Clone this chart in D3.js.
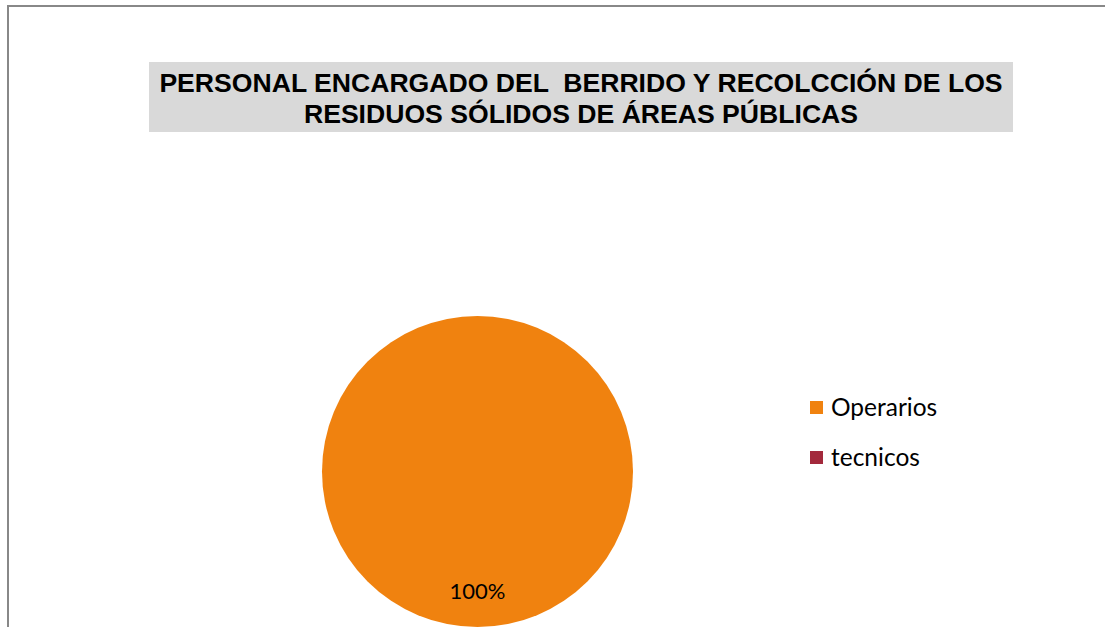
<!DOCTYPE html>
<html>
<head>
<meta charset="utf-8">
<script src="https://cdn.jsdelivr.net/npm/d3@7"></script>
<style>
  html, body { margin: 0; padding: 0; background: #fff; overflow: hidden; }
</style>
</head>
<body>
<svg id="chart" width="1105" height="627"></svg>
<script>
var titleLines = ["PERSONAL ENCARGADO DEL  BERRIDO Y RECOLCCIÓN DE LOS", "RESIDUOS SÓLIDOS DE ÁREAS PÚBLICAS"];
var categories = ["Operarios", "tecnicos"];
var values = [100, 0];
var colors = ["#F0820F", "#A3293C"];

var width = 1105, height = 627;
var svg = d3.select("#chart");

// chart area border (only top and left edges visible in the frame)
svg.append("rect")
    .attr("x", 8).attr("y", 6)
    .attr("width", width + 20).attr("height", height + 20)
    .attr("fill", "#fff")
    .attr("stroke", "#888").attr("stroke-width", 2);

// title box
svg.append("rect")
    .attr("x", 149).attr("y", 62)
    .attr("width", 864).attr("height", 70)
    .attr("fill", "#d9d9d9");

svg.append("g").selectAll("text")
    .data(titleLines)
    .enter().append("text")
    .attr("x", 581)
    .attr("y", function (d, i) { return 92 + i * 31; })
    .attr("text-anchor", "middle")
    .style("font-family", "'Liberation Sans', Arial, sans-serif")
    .style("font-weight", "bold")
    .style("font-size", "26.6px")
    .style("white-space", "pre")
    .attr("xml:space", "preserve")
    .text(function (d) { return d; });

// pie
var cx = 477.5, cy = 471.5, r = 155.5;
var data = categories.map(function (c, i) { return { name: c, value: values[i] }; });
var total = d3.sum(values);
var color = d3.scaleOrdinal().domain(categories).range(colors);
var pie = d3.pie().sort(null).value(function (d) { return d.value; });
var arc = d3.arc().innerRadius(0).outerRadius(r);
var labelArc = d3.arc().innerRadius(r * 0.8).outerRadius(r * 0.8);
var fmt = d3.format(".0%");

var g = svg.append("g").attr("transform", "translate(" + cx + "," + cy + ")");
var slices = pie(data);
g.selectAll("path")
    .data(slices)
    .enter().append("path")
    .attr("d", arc)
    .attr("fill", function (d) { return color(d.data.name); });

g.selectAll("text")
    .data(slices.filter(function (d) { return d.value > 0; }))
    .enter().append("text")
    .attr("transform", function (d) {
        var c = labelArc.centroid(d);
        // a full slice centroid lands at the bottom of the pie
        if (d.endAngle - d.startAngle >= 2 * Math.PI - 1e-6) c = [0, r * 0.77];
        return "translate(" + c[0] + "," + c[1] + ")";
    })
    .attr("dy", "0.35em")
    .attr("text-anchor", "middle")
    .style("font-family", "Lato, 'Open Sans', sans-serif")
    .style("font-size", "22px")
    .attr("fill", "#000")
    .text(function (d) { return fmt(d.value / total); });

// legend
var legend = svg.append("g").attr("transform", "translate(810,401)");
var item = legend.selectAll("g")
    .data(categories)
    .enter().append("g")
    .attr("transform", function (d, i) { return "translate(0," + i * 50 + ")"; });
item.append("rect")
    .attr("width", 13).attr("height", 13)
    .attr("fill", function (d) { return color(d); });
item.append("text")
    .attr("x", 21).attr("y", 14.5)
    .style("font-family", "Lato, 'Open Sans', sans-serif")
    .style("font-size", "24.5px")
    .attr("fill", "#000")
    .text(function (d) { return d; });
</script>
</body>
</html>
